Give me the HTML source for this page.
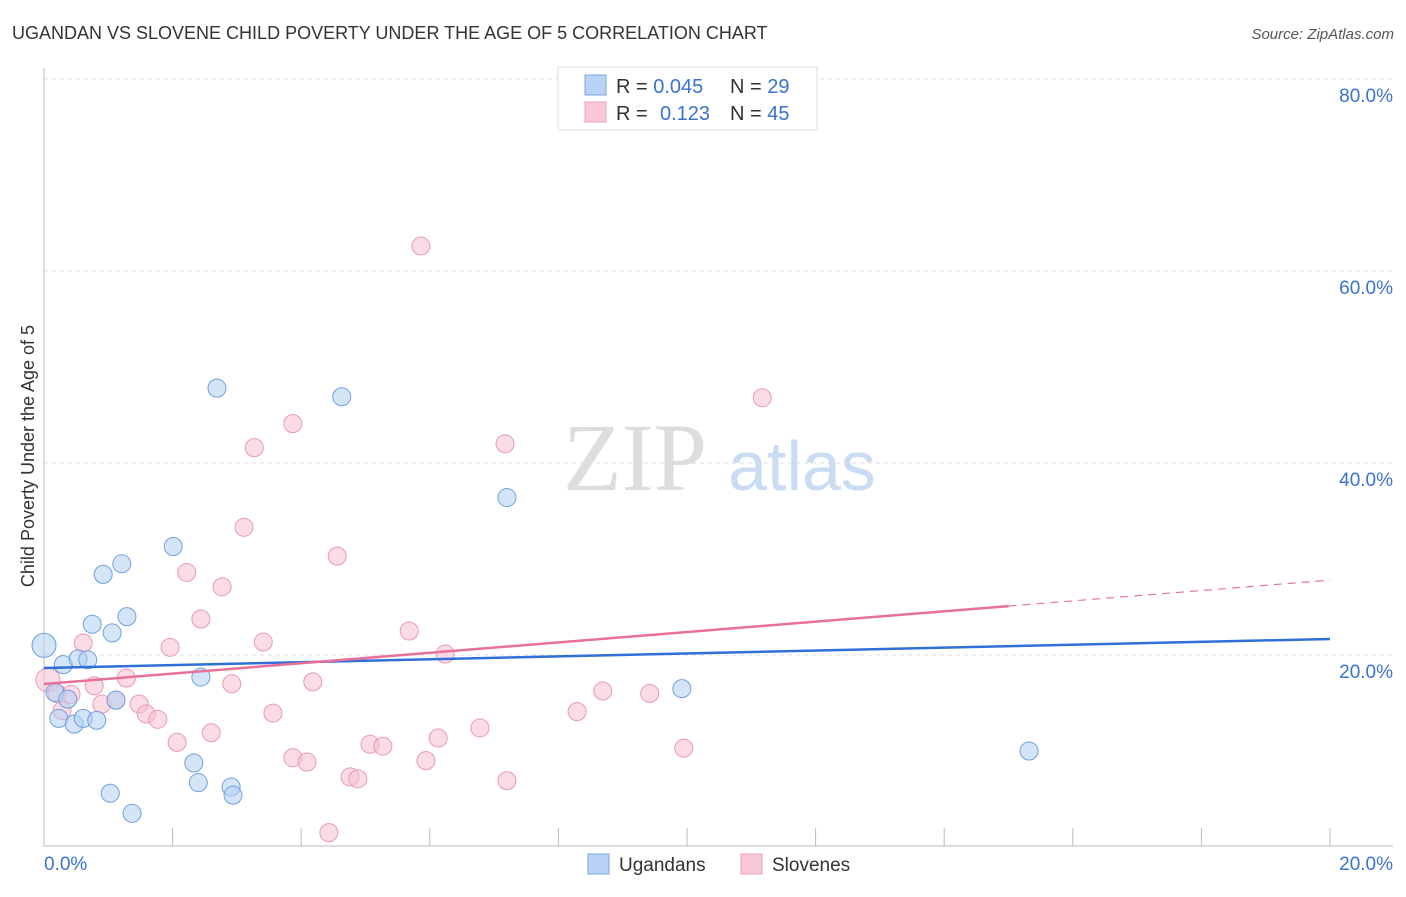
<!DOCTYPE html>
<html><head><meta charset="utf-8"><style>
body{margin:0;background:#fff;width:1406px;height:892px;overflow:hidden;font-family:"Liberation Sans",sans-serif}
</style></head><body>
<svg width="1406" height="892" xmlns="http://www.w3.org/2000/svg">
<text x="12" y="39" font-size="18" fill="#333">UGANDAN VS SLOVENE CHILD POVERTY UNDER THE AGE OF 5 CORRELATION CHART</text>
<text x="1394" y="39" font-size="15" fill="#555" font-style="italic" text-anchor="end">Source: ZipAtlas.com</text>
<g>
<text x="635" y="490" font-size="96" font-family="Liberation Serif,serif" fill="#ddd" text-anchor="middle">ZIP</text>
<text x="802" y="490" font-size="70" fill="#c9dcf3" text-anchor="middle">atlas</text>
</g>
<g id="grid"></g>
<g id="axes"></g>
<g id="marks"></g>
<text transform="translate(34,456) rotate(-90)" font-size="18" fill="#333" text-anchor="middle">Child Poverty Under the Age of 5</text>
<g>
<rect x="558" y="67" width="259" height="63" fill="#fff" stroke="#ddd"/>
<rect x="585" y="75" width="21" height="20" fill="#b8d3f5" stroke="#7aa6e0"/>
<rect x="585" y="102" width="21" height="20" fill="#f9c8d6" stroke="#eba0b8"/>
<text x="616" y="93" font-size="20" fill="#333">R = <tspan fill="#3a72d0">0.045</tspan><tspan x="730">N = </tspan><tspan fill="#3a72d0">29</tspan></text>
<text x="616" y="120" font-size="20" fill="#333">R = <tspan x="660" fill="#3a72d0">0.123</tspan><tspan x="730">N = </tspan><tspan fill="#3a72d0">45</tspan></text>
</g>
<g>
<rect x="588" y="854" width="21" height="20" fill="#b8d3f5" stroke="#7aa6e0"/>
<text x="619" y="871" font-size="19" fill="#333">Ugandans</text>
<rect x="741" y="854" width="21" height="20" fill="#f9c8d6" stroke="#eba0b8"/>
<text x="772" y="871" font-size="19" fill="#333">Slovenes</text>
</g>
</svg>
<script>
const yTicks=[20,40,60,80];
const yTickLabels=["20.0%","40.0%","60.0%","80.0%"];
const xTickLabels=["0.0%","20.0%"];
const blueX=[0,0.3,0.53,0.68,0.75,0.92,1.06,1.21,1.29,2.01,2.69,4.63,7.2,9.92,15.32,0.17,0.37,0.23,0.47,0.61,0.82,1.12,2.44,2.33,2.4,2.91,2.94,1.03,1.37];
const blueY=[21,19,19.6,19.5,23.2,28.4,22.3,29.5,24,31.3,47.8,46.9,36.4,16.5,10,16.1,15.4,13.4,12.8,13.4,13.2,15.3,17.7,8.75,6.7,6.25,5.4,5.6,3.5];
const pinkX=[0.06,0.2,0.42,0.28,0.61,0.78,0.9,1.12,1.28,1.48,1.59,1.77,1.96,2.07,2.22,2.44,2.77,2.6,2.92,3.11,3.27,3.41,3.56,3.87,3.87,4.09,4.18,4.43,4.56,4.76,4.88,5.07,5.27,5.68,5.86,5.94,6.13,6.24,6.78,7.17,7.2,8.29,8.69,9.42,9.95,11.17];
const pinkY=[17.4,16,15.9,14.2,21.25,16.8,14.9,15.3,17.6,14.9,13.85,13.3,20.8,10.9,28.6,23.75,27.1,11.9,17,33.3,41.6,21.35,13.95,44.1,9.3,8.85,17.2,1.5,30.3,7.3,7.1,10.7,10.5,22.5,62.6,9,11.35,20.1,12.4,42,6.9,14.1,16.25,16,10.3,46.8];
const blueTrend=[18.65,21.67];
const pinkTrend=[16.98,27.8];
const pinkSolidEnd=15;
const X=v=>44+v*64.3, Y=v=>847-v*9.6;
const NS="http://www.w3.org/2000/svg";
function mk(t,a,p){const e=document.createElementNS(NS,t);for(const k in a)e.setAttribute(k,a[k]);p.appendChild(e);return e;}
const grid=document.getElementById('grid'),axes=document.getElementById('axes'),marks=document.getElementById('marks');
yTicks.forEach((t,i)=>{
 const l=mk('line',{x1:44,x2:1393,y1:Y(t),y2:Y(t),stroke:'#ddd','stroke-dasharray':'4,4'},grid);
 
 
 const tx=mk('text',{x:1393,y:Y(t)+23,'font-size':19,fill:'#3a72d0','text-anchor':'end'},grid);
 tx.textContent=yTickLabels[i];
 
 
});
mk('line',{x1:44,x2:44,y1:68,y2:846,stroke:'#bbb'},axes);
mk('line',{x1:44,x2:1393,y1:846,y2:846,stroke:'#bbb'},axes);
for(let i=1;i<=10;i++){const l=mk('line',{x1:X(i*2),x2:X(i*2),y1:828,y2:846,stroke:'#bbb'},axes);
 
 }
[[0,44,'start'],[20,1393,'end']].forEach((d,i)=>{const t=mk('text',{x:d[1],y:870,'font-size':19,fill:'#3a72d0','text-anchor':d[2]},axes);t.textContent=xTickLabels[i];
 
 });
function dots(xs,ys,fill,stroke,name){xs.forEach((x,i)=>{const big=(x<0.1);const c=mk('circle',{cx:X(x),cy:Y(ys[i]),r:big?12:9,fill:fill,stroke:stroke,'stroke-width':1,'fill-opacity':0.55},marks);
 
 });}
dots(pinkX,pinkY,'#f7bfd0','#e89ab3','slovene-point');
dots(blueX,blueY,'#b3cff3','#6f9fe0','ugandan-point');
const bl=mk('line',{x1:X(0),y1:Y(blueTrend[0]),x2:X(20),y2:Y(blueTrend[1]),stroke:'#2f6fd6','stroke-width':2.5},marks);


const pm=pinkTrend[0]+(pinkTrend[1]-pinkTrend[0])*pinkSolidEnd/20;
const pl=mk('line',{x1:X(0),y1:Y(pinkTrend[0]),x2:X(pinkSolidEnd),y2:Y(pm),stroke:'#e8709a','stroke-width':2.5},marks);


const pd=mk('line',{x1:X(pinkSolidEnd),y1:Y(pm),x2:X(20),y2:Y(pinkTrend[1]),stroke:'#e8709a','stroke-width':1.2,'stroke-dasharray':'8,6'},marks);


</script>
</body></html>
